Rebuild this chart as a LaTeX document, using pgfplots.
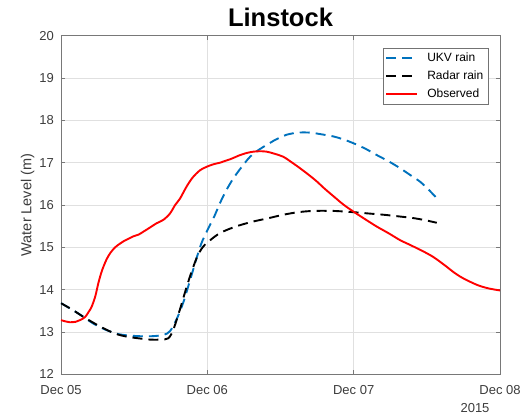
\documentclass[border=0pt]{standalone}
\usepackage{pgfplots}
\pgfplotsset{compat=1.18}
\usepackage{fontspec}
\setmainfont{Liberation Sans}
\definecolor{ukv}{RGB}{0,114,189}
\definecolor{axgray}{RGB}{120,120,120}
\definecolor{txt}{RGB}{60,60,60}
\begin{document}
\begin{tikzpicture}
\path[use as bounding box] (-61pt,-42.7pt) rectangle (461pt,374.3pt);
\begin{axis}[
  scale only axis, width=439pt, height=338.6pt,
  xmin=0, xmax=3, ymin=12, ymax=20,
  xtick={0,1,2,3}, xticklabels={Dec 05,Dec 06,Dec 07,Dec 08},
  ytick={12,13,...,20},
  grid=major, major grid style={black!12, line width=0.5pt},
  axis line style={axgray, line width=0.6pt},
  tick style={axgray, line width=0.6pt},
  tick align=inside, major tick length=4pt,
  /pgf/number format/assume math mode=true,
  ticklabel style={font=\fontsize{13}{15}\selectfont, text=txt},
  xticklabel style={anchor=base, yshift=-20.7pt},
  yticklabel style={xshift=-3.7pt},
  ylabel={Water Level (m)},
  ylabel style={font=\fontsize{14.5}{16}\selectfont, text=txt, at={(axis description cs:-0.0763,0.5)}, anchor=center},
  title={Linstock},
  title style={font=\fontsize{25.5}{28}\selectfont\bfseries, at={(axis description cs:0.5,1)}, anchor=base, yshift=3pt},
  legend cell align=left,
  legend image code/.code={\draw[#1, line width=1.9pt] (0pt,0pt) -- (31pt,0pt); \path (38pt,0pt);},
  legend style={at={(axis description cs:0.9727,0.9637)}, anchor=north east,
    draw=black!55, fill=white, font=\fontsize{12}{14}\selectfont,
    row sep=2.5pt, inner sep=2.5pt,
    nodes={inner sep=2pt, text height=9pt, text depth=2.5pt}},
]
\addplot[ukv, line width=1.9pt, dash pattern=on 10pt off 6pt, smooth] coordinates {
(0,13.68) (0.08,13.52) (0.152,13.36) (0.22,13.2) (0.3,13.06) (0.38,12.96) (0.45,12.92)
(0.54,12.90) (0.62,12.90) (0.70,12.93) (0.745,13.02) (0.79,13.3) (0.836,13.7) (0.88,14.2)
(0.927,14.75) (0.96,15.1) (1.0,15.4) (1.05,15.75) (1.087,16.05) (1.13,16.35) (1.178,16.63)
(1.235,16.9) (1.292,17.14) (1.35,17.3) (1.406,17.42) (1.47,17.55) (1.542,17.66) (1.62,17.71)
(1.702,17.71) (1.78,17.67) (1.861,17.62) (1.93,17.55) (1.998,17.46) (2.08,17.33) (2.158,17.18)
(2.24,17.03) (2.317,16.87) (2.39,16.7) (2.454,16.55) (2.51,16.37) (2.568,16.16)
};
\addlegendentry{UKV rain}
\addplot[black, line width=1.9pt, dash pattern=on 10pt off 6pt, smooth] coordinates {
(0,13.68) (0.08,13.52) (0.152,13.36) (0.23,13.2) (0.312,13.05) (0.38,12.95) (0.449,12.89)
(0.53,12.85) (0.608,12.82) (0.68,12.82) (0.733,12.85) (0.767,13.05) (0.81,13.5) (0.859,14.07)
(0.9,14.5) (0.94,14.85) (0.98,15.05) (1.02,15.17) (1.07,15.3) (1.132,15.41) (1.22,15.52)
(1.314,15.61) (1.42,15.69) (1.519,15.77) (1.62,15.83) (1.724,15.86) (1.861,15.86) (2.0,15.83)
(2.1,15.80) (2.204,15.77) (2.31,15.73) (2.409,15.69) (2.49,15.64) (2.568,15.58)
};
\addlegendentry{Radar rain}
\addplot[red, line width=1.9pt, smooth] coordinates {
(0,13.28) (0.03,13.25) (0.06,13.23) (0.1,13.24) (0.13,13.28) (0.164,13.35) (0.19,13.48)
(0.21,13.6) (0.235,13.85) (0.255,14.15) (0.28,14.45) (0.312,14.72) (0.34,14.88) (0.37,15.0)
(0.4,15.08) (0.426,15.14) (0.46,15.2) (0.494,15.26) (0.53,15.3) (0.563,15.37) (0.6,15.45)
(0.654,15.57) (0.7,15.65) (0.745,15.8) (0.78,16.0) (0.813,16.15) (0.859,16.44) (0.9,16.65)
(0.95,16.82) (1.007,16.92) (1.05,16.97) (1.087,17.0) (1.12,17.04) (1.155,17.08) (1.19,17.13)
(1.224,17.18) (1.27,17.23) (1.314,17.26) (1.36,17.27) (1.406,17.26) (1.46,17.21) (1.519,17.14)
(1.58,17.0) (1.633,16.87) (1.69,16.72) (1.747,16.56) (1.80,16.39) (1.861,16.21) (1.93,16.01)
(2.0,15.84) (2.08,15.66) (2.158,15.49) (2.24,15.33) (2.317,15.17) (2.39,15.05) (2.454,14.94)
(2.5,14.86) (2.545,14.77) (2.59,14.66) (2.636,14.54) (2.68,14.42) (2.727,14.31) (2.77,14.23)
(2.818,14.15) (2.86,14.09) (2.909,14.04) (2.95,14.01) (3.0,13.98)
};
\addlegendentry{Observed}
\end{axis}
\node[anchor=base, font=\fontsize{13}{15}\selectfont, text=txt] at (414pt,-38.7pt) {2015};
\end{tikzpicture}
\end{document}
